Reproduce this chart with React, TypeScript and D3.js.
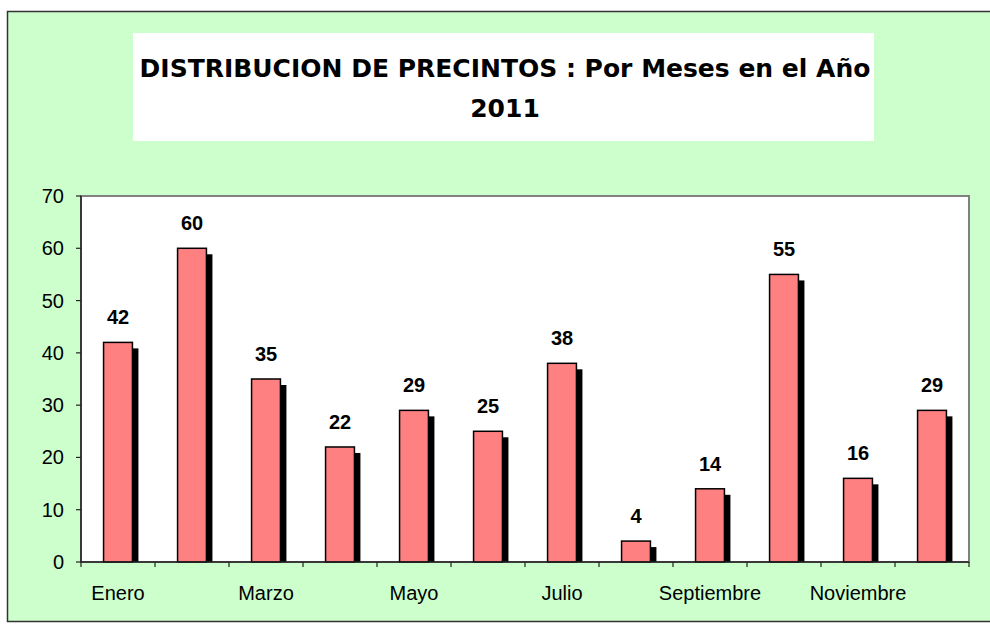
import React from 'react';
import * as d3 from 'd3';

const months = ['Enero', 'Febrero', 'Marzo', 'Abril', 'Mayo', 'Junio', 'Julio', 'Agosto', 'Septiembre', 'Octubre', 'Noviembre', 'Diciembre'];
const precintos = [42, 60, 35, 22, 29, 25, 38, 4, 14, 55, 16, 29];
const yTicks = [0, 10, 20, 30, 40, 50, 60, 70];
const titleLines = ['DISTRIBUCION DE PRECINTOS : Por Meses en el Año', '2011'];

const W = 990;
const H = 624;
const plot = { left: 81, top: 196, right: 969, bottom: 562 };
const arial = "Arial, 'Liberation Sans', sans-serif";

const App = () => {
  const x = d3.scaleBand().domain(months).range([plot.left, plot.right]).paddingInner(0).paddingOuter(0);
  const y = d3.scaleLinear().domain([0, 70]).range([plot.bottom, plot.top]);
  const barW = x.bandwidth() * 0.39;
  const sh = 6;

  return (
    <svg width={W} height={H} style={{ position: 'absolute', left: 0, top: 0, display: 'block' }}>
      <rect x={0} y={0} width={W} height={H} fill="#fff" />
      <rect x={7.5} y={11.5} width={990} height={610} fill="#CCFFCC" stroke="#333" strokeWidth={1.5} />
      <rect x={133} y={33} width={741} height={108} fill="#fff" />
      {titleLines.map((t, i) => (
        <text key={i} x={505} y={77 + i * 40} textAnchor="middle" fontFamily="'DejaVu Sans', sans-serif" fontWeight="bold" fontSize={25}>
          {t}
        </text>
      ))}

      {/* plot area */}
      <rect x={plot.left} y={plot.top} width={plot.right - plot.left} height={plot.bottom - plot.top} fill="#fff" stroke="#808080" strokeWidth={2} />

      {/* bars */}
      {months.map((m, i) => {
        const cx = (x(m) as number) + x.bandwidth() / 2;
        const top = y(precintos[i]);
        return (
          <g key={m}>
            <rect x={cx - barW / 2 + sh} y={top + sh} width={barW} height={Math.max(0, plot.bottom - top - sh)} fill="#000" />
            <rect x={cx - barW / 2} y={top} width={barW} height={plot.bottom - top} fill="#FF8080" stroke="#000" strokeWidth={1.5} />
            <text x={cx} y={top - 18} textAnchor="middle" fontFamily={arial} fontWeight="bold" fontSize={20}>
              {precintos[i]}
            </text>
          </g>
        );
      })}

      {/* axes */}
      <line x1={plot.left} x2={plot.left} y1={plot.top} y2={plot.bottom} stroke="#222" strokeWidth={1.5} />
      <line x1={plot.left} x2={plot.right} y1={plot.bottom} y2={plot.bottom} stroke="#222" strokeWidth={1.5} />
      {yTicks.map((t) => (
        <g key={t}>
          <line x1={plot.left - 5} x2={plot.left} y1={y(t)} y2={y(t)} stroke="#222" strokeWidth={1.2} />
          <text x={plot.left - 17} y={y(t) + 7} textAnchor="end" fontFamily={arial} fontSize={20}>
            {t}
          </text>
        </g>
      ))}
      {months.concat(['']).map((m, i) => {
        const xx = plot.left + i * x.bandwidth();
        return <line key={'t' + i} x1={xx} x2={xx} y1={plot.bottom} y2={plot.bottom + 5} stroke="#222" strokeWidth={1.2} />;
      })}
      {months.map((m, i) =>
        i % 2 === 0 ? (
          <text key={'l' + m} x={(x(m) as number) + x.bandwidth() / 2} y={600} textAnchor="middle" fontFamily={arial} fontSize={20}>
            {m}
          </text>
        ) : null
      )}
    </svg>
  );
};

export default App;
